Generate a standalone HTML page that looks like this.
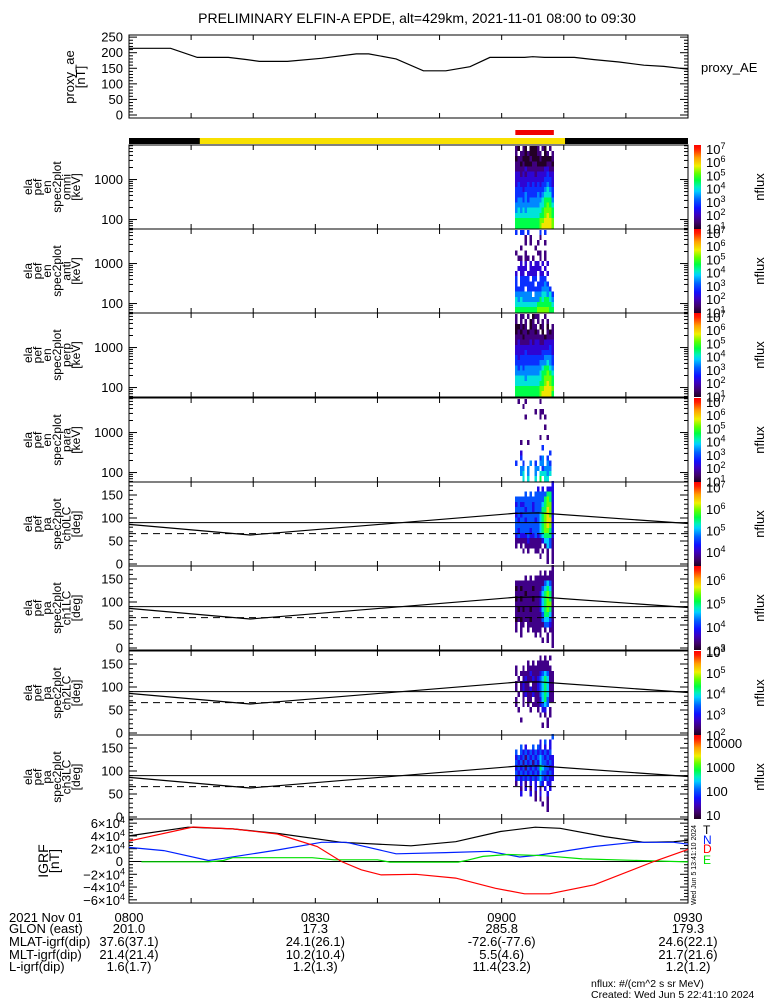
<!DOCTYPE html>
<html><head><meta charset="utf-8"><style>
html,body{margin:0;padding:0;background:#fff;}
svg{display:block;font-family:"Liberation Sans",sans-serif;}
text{fill:#000;}
</style></head><body>
<svg id="fig" width="775" height="1000" viewBox="0 0 775 1000" xmlns="http://www.w3.org/2000/svg">
<defs>
<linearGradient id="rainbow" x1="0" y1="1" x2="0" y2="0">
<stop offset="0" stop-color="#200020"/><stop offset="0.08" stop-color="#40006a"/><stop offset="0.17" stop-color="#3c00c0"/>
<stop offset="0.25" stop-color="#1010ff"/><stop offset="0.35" stop-color="#0060ff"/><stop offset="0.45" stop-color="#00d0ff"/>
<stop offset="0.5" stop-color="#00f0c0"/><stop offset="0.58" stop-color="#00ff40"/><stop offset="0.66" stop-color="#60ff00"/>
<stop offset="0.75" stop-color="#f0f000"/><stop offset="0.85" stop-color="#ffa000"/><stop offset="0.95" stop-color="#ff2000"/><stop offset="1" stop-color="#ff0000"/>
</linearGradient>
</defs>
<text x="417" y="23" font-size="14" text-anchor="middle">PRELIMINARY ELFIN-A EPDE, alt=429km, 2021-11-01 08:00 to 09:30</text>
<g id="g"></g>
<text x="591" y="987" font-size="10.5">nflux: #/(cm^2 s sr MeV)</text>
<text x="591" y="998" font-size="10.5">Created: Wed Jun  5 22:41:10 2024</text>
</svg>
<script>
// ---------- data ----------
const aeTimes = [0,6.7,11,16,19,21,25.5,31,36.6,38.6,43,47.4,51,54.9,58.1,63.7,65,66.9,71.7,74.9,78.9,82.9,86.1,90];
const aeValues = [214,214,185,185,178,172,172,182,196,196,180,142,142,155,185,185,187,185,185,178,170,160,156,147];
const aeTicks = [0,50,100,150,200,250];

const timeTickLabels = ["0800","0830","0900","0930"];
const timeTickMinutes = [0,30,60,90];
const glonValues = ["201.0","17.3","285.8","179.3"];
const mlatValues = ["37.6(37.1)","24.1(26.1)","-72.6(-77.6)","24.6(22.1)"];
const mltValues = ["21.4(21.4)","10.2(10.4)","5.5(4.6)","21.7(21.6)"];
const lValues = ["1.6(1.7)","1.2(1.3)","11.4(23.2)","1.2(1.2)"];

const dayStart = 11.4, dayEnd = 70.2;      // sunlit (yellow) bar, minutes
const sciStart = 62.2, sciEnd = 68.4;      // red science-zone bar, minutes

const colTimes = [62.35,62.74,63.13,63.52,63.91,64.30,64.69,65.08,65.47,65.86,66.25,66.64,67.03,67.42,67.81,68.20];
const energies = [6013,4468,3319,2466,1832,1361,1011,751,558,415,308,229,170,126,94,70];
const pitchAngles = [174.4,163.1,151.9,140.6,129.4,118.1,106.9,95.6,84.4,73.1,61.9,50.6,39.4,28.1,16.9,5.6];

const omniFlux = ["10.10.0001.10.1.","1.110100011.01.1","0110001000100001","1101000110000110","1111211111112211","2212122212222322","2222222222223332","2322232323233432","3332333333334543","3333433334345553","3443434444456664","4444444444556765","4545455555567776","5555555555667876","6666666666778887","6666666666788887"];
const antiFlux = ["3.33.3....3.3...","....1.1...1.....","....1.1..1..1...","..1.....1.......","1...1....11.1...",".11.11.1..1.1...","..2.2.2.22.2.2..",".2222.22222.2...","2.22.2222.22.2..","3.3333.33.333...","3.333333.33343..","3333.3333334443.","4444444.44455453","5454444444656654","5555555556666665","6666666667777766"];
const perpFlux = ["1.11.1.011..1...","1.1.1.01.1.1.1..","00101.011.01.0.1","0101101101.0.101","1110111111110111","1211112122112222","2222222222222232","2222322222233332","3233333333334443","3333333333444543","4343444444456654","4444444444566765","5555455555567776","5555555555667876","6666666666778887","6666666666788886"];
const paraFlux = [".1..1.....1.....","...1............","........1.11....","....1.....1.1...","................","............1...","................","..........1..1..","..1..1..........","...........3....","..2...........3.","..3.......34.3..","3..3..4.3.44.43.","..44.4..44.3444.","..45.4..4.55545.","...5.5..5.6.55.."];

const ch0Flux = ["...............2",".........2.2.222","....3.3.33333552","3333333333335652","2322333233345662","3333233233355762","2323333333456762","3233233323456772","3333333333456762","3233332333456652","2322232232345552","1111121111124431","1.1.1111111.1431","...1.1..11.1.1.1","..........1..1.1",".............1.1"];
const ch1Flux = ["...............1","..........1.1.11","....1.1.11111111","1111111111113431","0101111011134541","1111011111245651","0101111011245651","1111111111245661","1010110111245651","1111111111135541","0101110111134431","1.11.11111113321","1.1..1.1111.1.11","..1.....1.1..1.1","...........1.1.1","...............1"];
const ch2Flux = ["................","..........1.1.1.",".....1.1.11111..","1..1.1111111111.","1.11112111234311",".1.1211212345411","1.1211.112345411","1.12112112345411",".1.1211211345411","1..1.11.11245311","1..1.1.1112343..",".1....1..1.22.1.","..........1.1.1.","..1..........1..","...........1.1..","................"];
const ch3Flux = ["...............3","..........2.3.2.","..3.2..3.32.2.2.","3.3232323232323.","2323132323432322","3231323132433232","2323132323543322","3232323232433232","2323232323432322","1.2.1.2.2.32.22.","..1.2.1.2.1.2.2.","..2...2.1.2..2..","........1.1..1..","...........1.1..",".............1..","................"];

const lcTimes = [0,19.5,62,66,90];
const lcValues = [86,63,110,111,88];
const perpLine = 90, antiLcLine = 66;

const bTimes = [0,9.5,16.7,23.9,34.2,45.4,52.6,59.8,65.4,69.4,76.6,82.9,87.7,90];
const bTotal = [40000,53700,51000,44000,30000,24500,31000,47000,53700,52000,39000,30000,31000,33000];
const nTimes = [0,5.6,12.8,15.2,23.9,31,35,43,51,58,62.9,66,74.9,81.3,87.7,90];
const bNorth = [22000,17000,1500,5000,18000,30000,30000,12000,14000,16000,7000,10000,23500,30000,30000,27000];
const dTimes = [0,10.3,16.7,23.9,30.3,34.2,37.4,40.6,46.2,52.6,59,63.7,67.7,74.9,84.5,90];
const bDown = [32000,54000,51000,43000,23500,0,-13000,-21000,-20000,-26000,-42000,-50600,-50600,-36500,0,19000];
const eTimes = [2,12.8,15.2,16.7,29.5,33,40,42,53,54.5,57,61,66.9,73,82,90];
const bEast = [-500,-500,1500,6000,6000,2600,2600,-1000,-1000,2000,8000,11000,9000,4000,1500,-700];
const igrfTicks = [-60000,-40000,-20000,0,20000,40000,60000];

// ---------- helpers ----------
const NS = "http://www.w3.org/2000/svg";
const G = document.getElementById('g');
function mk(tag, attrs, parent){ const e=document.createElementNS(NS,tag); for(const k in attrs) e.setAttribute(k,attrs[k]); (parent||G).appendChild(e); return e; }
const L0 = 129, R0 = 688;
const X = m => L0 + m*(R0-L0)/90;
const stops=[[0,[32,0,32]],[0.08,[64,0,106]],[0.17,[60,0,192]],[0.25,[16,16,255]],[0.35,[0,96,255]],[0.45,[0,208,255]],[0.5,[0,240,192]],[0.58,[0,255,64]],[0.66,[96,255,0]],[0.75,[240,240,0]],[0.85,[255,160,0]],[0.95,[255,32,0]],[1,[255,0,0]]];
function cmap(t){ t=Math.max(0,Math.min(1,t)); for(let i=1;i<stops.length;i++){ if(t<=stops[i][0]){ const a=stops[i-1],b=stops[i],f=(t-a[0])/(b[0]-a[0]); return 'rgb('+a[1].map((c,j)=>Math.round(c+(b[1][j]-c)*f)).join(',')+')'; } } return 'rgb(255,0,0)'; }
function sup(x,y,base,exp,name){ const t=mk('text',{x:x,y:y,'font-size':13});
 
 
 const a=mk('tspan',{},t); a.textContent=base; if(exp!==''){ const b=mk('tspan',{dy:-5,'font-size':9},t); b.textContent=exp; } return t; }
function ylabel(lines, cy, x0, dx, fs, name){
 lines.forEach((s,i)=>{ const x=x0+i*dx; const t=mk('text',{x:x,y:cy,'font-size':fs,'text-anchor':'middle',transform:'rotate(-90 '+x+' '+cy+')'});
  
  
  t.textContent=s; });
}
function line(x1,y1,x2,y2,name,extra){ const l=mk('line',Object.assign({x1:x1,y1:y1,x2:x2,y2:y2,stroke:'#000','stroke-width':1},extra||{}));
 
 
 return l; }
function poly(ts,vs,fx,fy,color,name,dash){ const p=mk('polyline',{points:ts.map((t,i)=>fx(t).toFixed(1)+','+fy(vs[i]).toFixed(1)).join(' '),fill:'none',stroke:color,'stroke-width':1.2,'stroke-dasharray':dash||'none'});
 
 
 return p; }
function frame(top,bot,name){ const r=mk('rect',{x:L0,y:top,width:R0-L0,height:bot-top,fill:'none',stroke:'#000','stroke-width':1});
 
 
 for(let m=0;m<=90;m+=10){ line(X(m),bot,X(m),bot-5,'x-tick'); line(X(m),top,X(m),top+5,'x-tick'); } }
function yticks(top,bot,vals,fy,len){ vals.forEach(v=>{ const y=fy(v); if(y<top-0.5||y>bot+0.5) return; line(L0,y,L0+len,y,'y-tick'); line(R0,y,R0-len,y,'y-tick'); }); }
function ylab(txt,y,name){ const t=mk('text',{x:123,y:y+4.5,'font-size':13,'text-anchor':'end'});
 
 
 t.textContent=txt; }

// ---------- proxy AE panel ----------
const aeTop=35, aeBot=118;
const yAE = v => 115 - v*0.3115;
frame(aeTop,aeBot,'proxy-ae-panel');
for(let v=0;v<=260;v+=10) yticks(aeTop,aeBot,[v],yAE,v%50===0?8:4);
aeTicks.forEach(v=>ylab(String(v),yAE(v),'proxy-ae-tick-label'));
poly(aeTimes,aeValues,X,yAE,'#000','proxy-ae-line');
ylabel(['proxy_ae','[nT]'],77,74,11,13,'proxy-ae-axis-title');
{ const t=mk('text',{x:701,y:72,'font-size':13});   t.textContent='proxy_AE'; }

// ---------- status bars ----------
{ let r=mk('rect',{x:L0,y:138,width:R0-L0,height:6,fill:'#000'});  
  r=mk('rect',{x:X(dayStart),y:138,width:X(dayEnd)-X(dayStart),height:6,fill:'#f8e000'});  
  r=mk('rect',{x:X(sciStart),y:130,width:X(sciEnd)-X(sciStart),height:5,fill:'#f00000'});   }

// ---------- spectrogram panels ----------
const tops=[145,229,313,398,482,566,651,735];
const H=84;
const colW=0.39;
function drawCbar(top,bot,lo,hi,labels,name){
 const r=mk('rect',{x:694,y:top,width:7,height:bot-top,fill:'url(#rainbow)'});
 
 
 const fy=v=>top+(hi-v)*(bot-top)/(hi-lo);
 labels.forEach(l=>{ sup(706,fy(l[0])+5,l[1],l[2],'colorbar-label'); });
 const t=mk('text',{x:764,y:(top+bot)/2,'font-size':13,'text-anchor':'middle',transform:'rotate(-90 764 '+((top+bot)/2)+')'});
 
 
 t.textContent='nflux';
}
const enPanels=[['omni',omniFlux],['anti',antiFlux],['perp',perpFlux],['para',paraFlux]];
enPanels.forEach((p,k)=>{
 const top=tops[k], bot=top+H;
 const yE = e => top + (Math.log10(7300)-Math.log10(e))*40;
 const lo=0.96, hi=7.3;
 p[1].forEach((row,ri)=>{ const e=energies[ri];
  const eHi = ri>0 ? Math.sqrt(e*energies[ri-1]) : e*1.16, eLo = ri<energies.length-1 ? Math.sqrt(e*energies[ri+1]) : e/1.16;
  for(let ci=0;ci<row.length;ci++){ const ch=row[ci]; if(ch==='.') continue;
   const v=1+Number(ch)*0.6;
   const x0=X(colTimes[ci]-colW/2), x1=X(colTimes[ci]+colW/2);
   const c=mk('rect',{x:x0,y:Math.max(top,yE(eHi)),width:x1-x0,height:Math.min(bot,yE(eLo))-Math.max(top,yE(eHi)),fill:cmap((v-lo)/(hi-lo)),'shape-rendering':'crispEdges'});
   
    } });
 frame(top,bot,'energy-spectrogram-'+p[0]);
 [100,1000].forEach(v=>yticks(top,bot,[v],yE,8));
 [60,70,80,90,200,300,400,500,600,700,800,900,2000,3000,4000,5000,6000,7000].forEach(v=>yticks(top,bot,[v],yE,4));
 ylab('1000',yE(1000),'energy-tick-label'); ylab('100',yE(100),'energy-tick-label');
 ylabel(['ela','pef','en','spec2plot',p[0],'[keV]'],top+H/2,32,9.6,12,'energy-axis-title');
 drawCbar(top,bot,lo,hi,[[7,'10','7'],[6,'10','6'],[5,'10','5'],[4,'10','4'],[3,'10','3'],[2,'10','2'],[1,'10','1']],'colorbar-'+p[0]);
});

const paPanels=[['ch0LC',ch0Flux,3.35,7.26,[[7,'10','7'],[6,'10','6'],[5,'10','5'],[4,'10','4']]],
 ['ch1LC',ch1Flux,3.03,6.6,[[6,'10','6'],[5,'10','5'],[4,'10','4'],[3,'10','3']]],
 ['ch2LC',ch2Flux,2.0,6.05,[[6,'10','3'],[5,'10','5'],[4,'10','4'],[3,'10','3'],[2,'10','2']]],
 ['ch3LC',ch3Flux,0.83,4.33,[[4,'10000',''],[3,'1000',''],[2,'100',''],[1,'10','']]]];
paPanels.forEach((p,k)=>{
 const top=tops[4+k], bot=top+H;
 const yP = v => top + 82 - v*0.46;
 const lo=p[2], hi=p[3];
 p[1].forEach((row,ri)=>{ const a=pitchAngles[ri];
  for(let ci=0;ci<row.length;ci++){ const ch=row[ci]; if(ch==='.') continue;
   const v=lo+Number(ch)/9*(hi-lo);
   const x0=X(colTimes[ci]-colW/2), x1=X(colTimes[ci]+colW/2);
   const c=mk('rect',{x:x0,y:yP(a+5.625),width:x1-x0,height:11.25*0.46,fill:cmap((v-lo)/(hi-lo)),'shape-rendering':'crispEdges'});
   
    } });
 frame(top,bot,'pitch-angle-panel-'+p[0]);
 for(let v=0;v<=180;v+=10) yticks(top,bot,[v],yP,v%50===0?8:4);
 [0,50,100,150].forEach(v=>ylab(String(v),yP(v),'pitch-tick-label'));
 line(L0,yP(perpLine),R0,yP(perpLine),'perpendicular-line');
 line(L0,yP(antiLcLine),R0,yP(antiLcLine),'anti-loss-cone-line',{'stroke-dasharray':'7,5'});
 poly(lcTimes,lcValues,X,yP,'#000','loss-cone-line');
 ylabel(['ela','pef','pa','spec2plot',p[0],'[deg]'],top+H/2,32,9.6,12,'pitch-axis-title');
 drawCbar(top,bot,lo,hi,p[4],'colorbar-'+p[0]);
});

// ---------- IGRF panel ----------
const bTop=819, bBot=903;
const yB = v => 861.5 - v*0.000639;
frame(bTop,bBot,'igrf-panel');
for(let v=-65000;v<=65000;v+=5000) yticks(bTop,bBot,[v],yB,v%20000===0?8:4);
igrfTicks.forEach(v=>{ if(v===0){ ylab('0',yB(0),'igrf-tick-label'); return; }
 const s=(v<0?'\u2212':'')+Math.abs(v/10000)+'\u00d710';
 const t=sup(0,yB(v)+5,s,'4','igrf-tick-label'); t.setAttribute('x',125); t.setAttribute('text-anchor','end'); });
line(L0,yB(0),R0,yB(0),'igrf-zero-line');
poly(bTimes,bTotal,X,yB,'#000','igrf-total-line');
poly(nTimes,bNorth,X,yB,'#0020ff','igrf-north-line');
poly(eTimes,bEast,X,yB,'#00e000','igrf-east-line');
poly(dTimes,bDown,X,yB,'#ff0000','igrf-down-line');
ylabel(['IGRF','[nT]'],861,48,11,14,'igrf-axis-title');
[['T','#000',834],['N','#0020ff',844],['D','#ff0000',853],['E','#00e000',864]].forEach(l=>{
 const t=mk('text',{x:703,y:l[2],'font-size':12,fill:l[1]}); t.style.fill=l[1];
 
 
 t.textContent=l[0]; });
{ const t=mk('text',{x:696,y:905,'font-size':7,transform:'rotate(-90 696 905)'});
 
 
 t.textContent='Wed Jun  5 13:41:10 2024'; }

// ---------- bottom annotation ----------
const rowY=[922,933,946,959,971];
const rowNames=['2021 Nov 01','GLON (east)','MLAT-igrf(dip)','MLT-igrf(dip)','L-igrf(dip)'];
const rowVals=[timeTickLabels,glonValues,mlatValues,mltValues,lValues];
rowNames.forEach((n,i)=>{ const t=mk('text',{x:9,y:rowY[i],'font-size':13});
 
 
 t.textContent=n;
 rowVals[i].forEach((v,j)=>{ const u=mk('text',{x:X(timeTickMinutes[j]),y:rowY[i],'font-size':13,'text-anchor':'middle'});
  
  
  u.textContent=v; }); });
</script>
</body></html>
